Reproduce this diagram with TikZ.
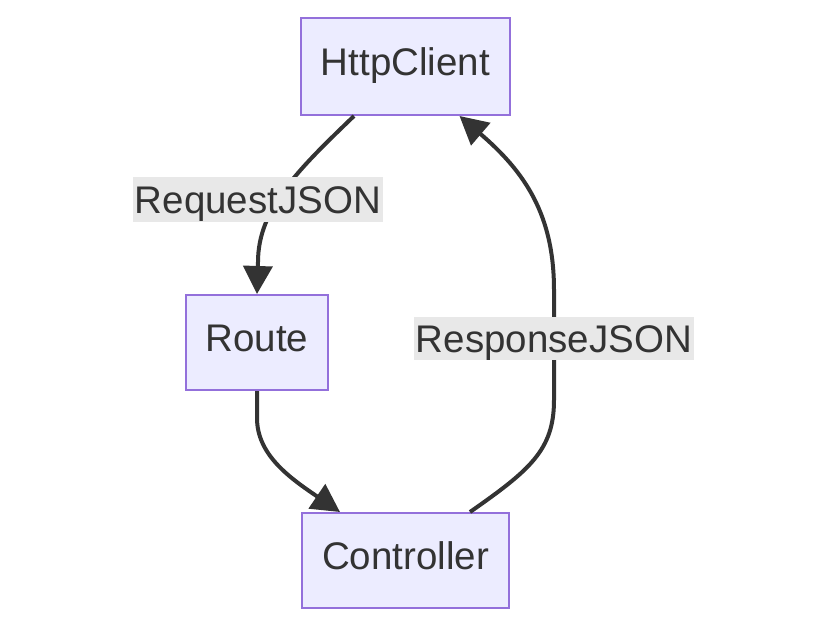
\documentclass[tikz,border=0pt]{standalone}
\usepackage{fontspec}
\setmainfont{Liberation Sans}
\usetikzlibrary{arrows.meta}
\definecolor{nodefill}{HTML}{ECECFF}
\definecolor{nodeline}{HTML}{9370DB}
\definecolor{edgecol}{HTML}{333333}
\definecolor{labelbg}{HTML}{E8E8E8}
\definecolor{textcol}{HTML}{333333}
\tikzset{
  box/.style={draw=nodeline, fill=nodefill, line width=2pt, inner sep=0pt,
    text=textcol, font=\fontsize{38.5}{46}\selectfont,
    text height=27.6pt, text depth=10pt},
  edge/.style={draw=edgecol, line width=4pt,
    -{Triangle[length=28pt,width=29pt]}},
  elabel/.style={fill=labelbg, inner sep=0pt, text=textcol,
    font=\fontsize{38.5}{46}\selectfont, text height=27.6pt, text depth=0pt}
}
\begin{document}
\begin{tikzpicture}[x=1pt,y=-1pt]
\useasboundingbox (0,0) rectangle (828,629);
\node[box, minimum width=209pt, minimum height=97pt] (hc) at (405.5,66.5) {HttpClient};
\node[box, minimum width=142pt, minimum height=95pt] (rt) at (257,342.5) {Route};
\node[box, minimum width=207pt, minimum height=95pt] (ct) at (405.5,560.5) {Controller};
% edges
\draw[edge] ([xshift=-51.5pt]hc.south) .. controls (300,168) and (258,208) .. (258,262) -- (rt.north);
\draw[edge] (rt.south) -- (257,418) .. controls (257,455) and (290,478) .. ([xshift=-65.5pt]ct.north);
\draw[edge] ([xshift=64.5pt]ct.north) .. controls (530,470) and (554,450) .. (554,400) -- (554,290) .. controls (554,215) and (525,172) .. ([xshift=54pt]hc.south);
% labels
\node[elabel, minimum width=250pt, minimum height=45pt] (l1) at (258,199.5) {RequestJSON};
\node[elabel, minimum width=280pt, minimum height=43pt] (l2) at (554,338.5) {ResponseJSON};
\end{tikzpicture}
\end{document}
